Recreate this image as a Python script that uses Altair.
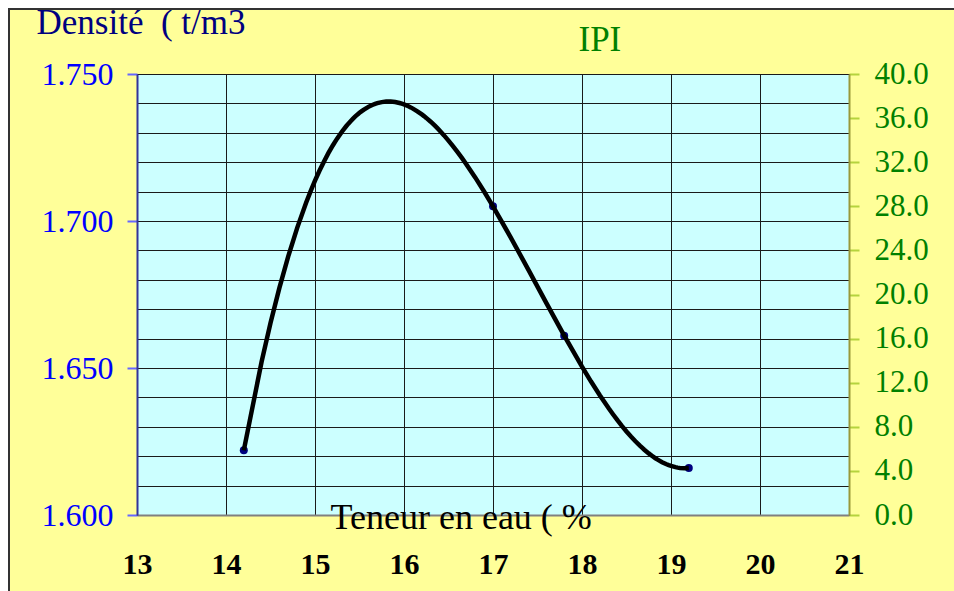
import altair as alt
import pandas as pd

# ---- data ----
water = [14.2, 17.0, 17.8, 19.2]          # Teneur en eau (%)
density = [1.622, 1.705, 1.661, 1.616]    # Densité (t/m3)
x_ticks = [13, 14, 15, 16, 17, 18, 19, 20, 21]
d_grid = [1.60, 1.61, 1.62, 1.63, 1.64, 1.65, 1.66, 1.67,
          1.68, 1.69, 1.70, 1.71, 1.72, 1.73, 1.74, 1.75]
ipi_ticks = [0, 4, 8, 12, 16, 20, 24, 28, 32, 36, 40]
ipi_domain = [0, 40]

FONT = "Liberation Serif"

df = pd.DataFrame({"w": water, "d": density})
one = pd.DataFrame({"a": [0]})
ipi_df = pd.DataFrame({"ipi": ipi_domain})

is_major = "round(datum.value*100) % 5 === 0"

x_enc = alt.X(
    "w:Q",
    scale=alt.Scale(domain=[13, 21], nice=False, zero=False),
    axis=alt.Axis(
        values=x_ticks, format="d", grid=True, gridColor="#1a1a1a", gridWidth=1,
        ticks=False, tickSize=0, domainColor="#808080", domainWidth=2,
        labelFont=FONT, labelFontSize=30, labelFontWeight="bold", labelColor="black",
        labelPadding=58, labelBaseline="alphabetic", labelFlush=False, labelOverlap=False,
        title="Teneur en eau ( %", titleFont=FONT, titleFontSize=36,
        titleFontWeight="normal", titleColor="black", titleX=193, titleY=13,
        titleAlign="left", titleBaseline="alphabetic",
    ),
)

y_enc = alt.Y(
    "d:Q",
    scale=alt.Scale(domain=[1.6, 1.75], nice=False, zero=False),
    axis=alt.Axis(
        values=d_grid,
        labelExpr=f"{is_major} ? format(datum.value, '.3f') : ''",
        tickOpacity={"condition": {"test": is_major, "value": 1}, "value": 0},
        grid=True, gridColor="#1a1a1a", gridWidth=1,
        domainColor="#333399", domainWidth=2,
        tickColor="#6666FF", tickSize=10, tickWidth=2,
        labelFont=FONT, labelFontSize=32, labelColor="#0000FF", labelPadding=14,
        labelFlush=False, labelOverlap=False,
        title="Densité\u00a0 ( t/m3", titleFont=FONT, titleFontSize=35,
        titleFontWeight="normal", titleColor="#000080", titleAngle=0,
        titleX=-101, titleY=-41, titleAlign="left", titleBaseline="alphabetic",
    ),
)

points = alt.Chart(df).mark_circle(size=64, color="#000080", opacity=1).encode(
    x=x_enc, y=y_enc
)

curve = (
    alt.Chart(df)
    .transform_regression("w", "d", method="poly", order=3)
    .mark_line(color="black", strokeWidth=4.5)
    .encode(x=x_enc, y=y_enc)
)

strip_left = alt.Chart(one).mark_rect(color="white").encode(
    x=alt.value(-137), x2=alt.value(-129), y=alt.value(-74), y2=alt.value(517)
)
strip_top = alt.Chart(one).mark_rect(color="white").encode(
    x=alt.value(-137), x2=alt.value(817), y=alt.value(-74), y2=alt.value(-66)
)
frame = alt.Chart(one).mark_rect(fill="transparent", stroke="#333333", strokeWidth=2).encode(
    x=alt.value(-128), x2=alt.value(830), y=alt.value(-65), y2=alt.value(530)
)

left = alt.layer(strip_left, strip_top, frame, points, curve)

right = alt.Chart(ipi_df).mark_point(opacity=0).encode(
    x=alt.value(0),
    y=alt.Y(
        "ipi:Q",
        scale=alt.Scale(domain=ipi_domain, nice=False, zero=False),
        axis=alt.Axis(
            orient="right", values=ipi_ticks, format=".1f", grid=False,
            domainColor="#99993A", domainWidth=2,
            tickColor="#B5D33D", tickSize=10, tickWidth=2,
            labelFont=FONT, labelFontSize=31, labelColor="#008000", labelPadding=15,
            labelFlush=False, labelOverlap=False,
            title="IPI", titleFont=FONT, titleFontSize=35, titleFontWeight="normal",
            titleColor="#008000", titleAngle=0, titleX=-271, titleY=-24,
            titleAlign="left", titleBaseline="alphabetic",
        ),
    ),
)

chart = (
    alt.layer(left, right)
    .resolve_scale(y="independent")
    .properties(
        width=712, height=441,
        padding={"left": 137, "top": 74, "right": 105, "bottom": 76},
        autosize=alt.AutoSizeParams(type="none"),
        background="#FFFF99",
    )
    .configure_view(fill="#CCFFFF", stroke="#222222", strokeWidth=1)
)

chart.save("out.html", embed_options={"renderer": "svg", "actions": False})
